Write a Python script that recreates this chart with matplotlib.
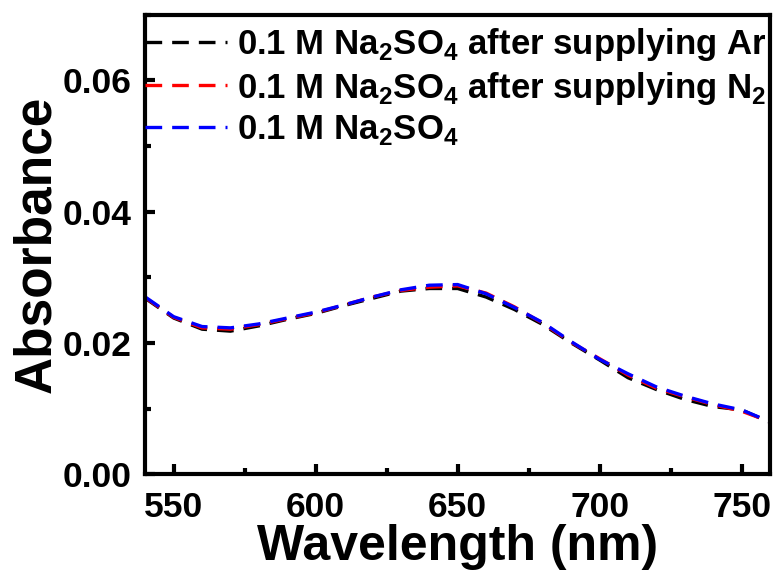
import matplotlib
matplotlib.use('Agg')
import matplotlib.pyplot as plt
from matplotlib.ticker import MultipleLocator

plt.rcParams['font.family'] = ['Liberation Sans', 'DejaVu Sans']
plt.rcParams['font.weight'] = 'bold'
plt.rcParams['mathtext.fontset'] = 'custom'
plt.rcParams['mathtext.rm'] = 'Liberation Sans:bold'
plt.rcParams['mathtext.bf'] = 'Liberation Sans:bold'

# Data
wavelength = [540, 550, 560, 570, 580, 590, 600, 610, 620, 630, 640, 650,
              660, 670, 680, 690, 700, 710, 720, 730, 740, 750, 760]
abs_ar = [0.0268, 0.0238, 0.0221, 0.0218, 0.0226, 0.0236, 0.0245, 0.0257,
          0.0268, 0.0279, 0.0283, 0.0283, 0.0270, 0.0251, 0.0228, 0.0200,
          0.0174, 0.0147, 0.0129, 0.0114, 0.0103, 0.0098, 0.0079]
abs_n2 = [0.0269, 0.0239, 0.0223, 0.0221, 0.0228, 0.0237, 0.0246, 0.0258,
          0.0270, 0.0280, 0.0285, 0.0287, 0.0276, 0.0255, 0.0230, 0.0201,
          0.0176, 0.0151, 0.0131, 0.0118, 0.0106, 0.0096, 0.0080]
abs_ref = [0.0270, 0.0240, 0.0225, 0.0223, 0.0229, 0.0238, 0.0247, 0.0258,
           0.0270, 0.0281, 0.0288, 0.0289, 0.0275, 0.0254, 0.0231, 0.0202,
           0.0175, 0.0153, 0.0133, 0.0119, 0.0107, 0.0098, 0.0080]

labels = [r'0.1 M Na$_\mathbf{2}$SO$_\mathbf{4}$ after supplying Ar',
          r'0.1 M Na$_\mathbf{2}$SO$_\mathbf{4}$ after supplying N$_\mathbf{2}$',
          r'0.1 M Na$_\mathbf{2}$SO$_\mathbf{4}$']
colors = ['black', 'red', 'blue']

fig = plt.figure(figsize=(7.77, 5.72), dpi=100)
ax = fig.add_axes([0.187, 0.171, 0.804, 0.803])

for y, lab, c in zip([abs_ar, abs_n2, abs_ref], labels, colors):
    ax.plot(wavelength, y, color=c, lw=2.4, ls=(0, (5, 3)), label=lab)

ax.set_xlim(540, 760)
ax.set_ylim(0, 0.07)
ax.xaxis.set_major_locator(MultipleLocator(50))
ax.xaxis.set_minor_locator(MultipleLocator(25))
ax.yaxis.set_major_locator(MultipleLocator(0.02))
ax.yaxis.set_minor_locator(MultipleLocator(0.01))
ax.set_yticks([0.0, 0.02, 0.04, 0.06])
ax.set_yticklabels(['0.00', '0.02', '0.04', '0.06'])

for s in ax.spines.values():
    s.set_linewidth(3)
ax.tick_params(which='major', direction='in', length=7, width=3,
               labelsize=25.5)
ax.tick_params(axis='x', which='major', pad=12)
ax.tick_params(axis='y', which='major', pad=10)
ax.tick_params(which='minor', direction='in', length=4, width=3)

ax.set_xlabel('Wavelength (nm)', fontsize=36, fontweight='bold', labelpad=0)
ax.set_ylabel('Absorbance', fontsize=37, fontweight='bold', labelpad=1)

ax.legend(loc='upper left', bbox_to_anchor=(0.0, 0.975), frameon=False,
          fontsize=25, handlelength=2.35, handletextpad=0.3,
          borderaxespad=0.0, labelspacing=0.18, borderpad=0.0)

fig.savefig('out.png', dpi=100)
